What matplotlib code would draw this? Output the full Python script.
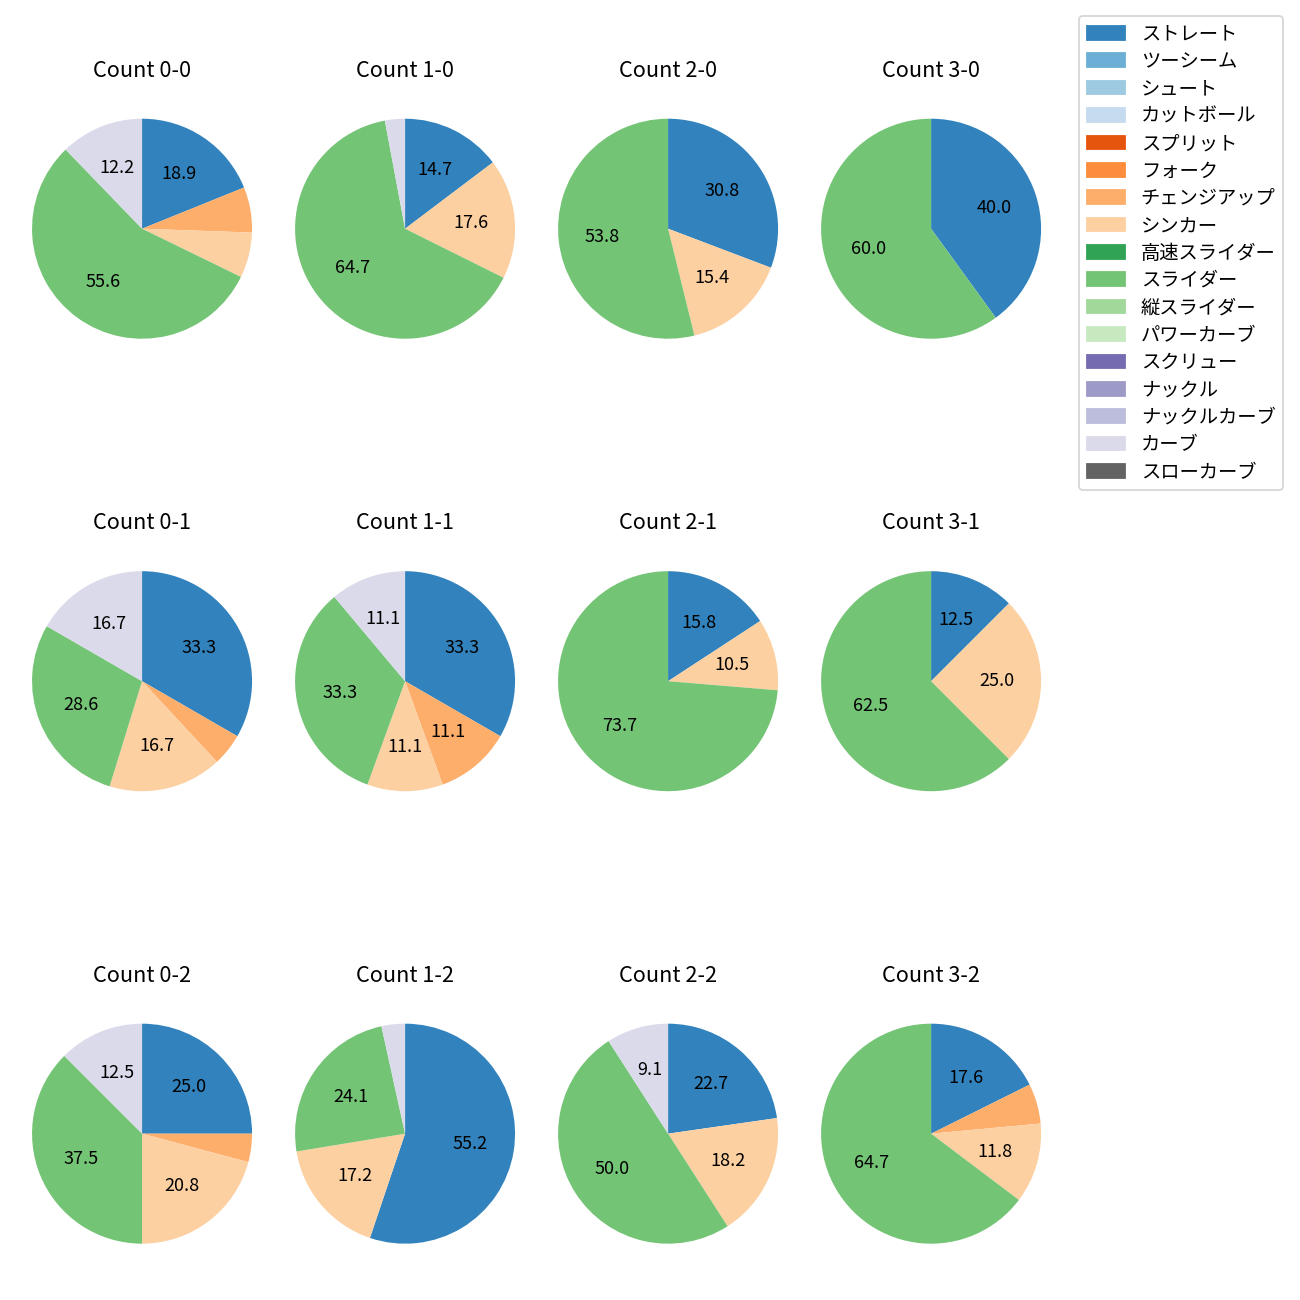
import matplotlib
matplotlib.use('Agg')
import matplotlib.pyplot as plt
from matplotlib.patches import Patch

plt.rcParams['font.family'] = ['Noto Sans CJK JP', 'DejaVu Sans']

# pitch types and their colours (tab20c order)
pitch_types = ['ストレート', 'ツーシーム', 'シュート', 'カットボール', 'スプリット', 'フォーク',
               'チェンジアップ', 'シンカー', '高速スライダー', 'スライダー', '縦スライダー',
               'パワーカーブ', 'スクリュー', 'ナックル', 'ナックルカーブ', 'カーブ', 'スローカーブ']
pitch_colors = ['#3182bd', '#6baed6', '#9ecae1', '#c6dbef', '#e6550d', '#fd8d3c',
                '#fdae6b', '#fdd0a2', '#31a354', '#74c476', '#a1d99b', '#c7e9c0',
                '#756bb1', '#9e9ac8', '#bcbddc', '#dadaeb', '#636363']

# pitch counts per ball-strike count (only types that were thrown)
counts = ['0-0', '1-0', '2-0', '3-0',
          '0-1', '1-1', '2-1', '3-1',
          '0-2', '1-2', '2-2', '3-2']
pitches = {
    '0-0': {'ストレート': 17, 'チェンジアップ': 6, 'シンカー': 6, 'スライダー': 50, 'カーブ': 11},
    '1-0': {'ストレート': 5, 'シンカー': 6, 'スライダー': 22, 'カーブ': 1},
    '2-0': {'ストレート': 4, 'シンカー': 2, 'スライダー': 7},
    '3-0': {'ストレート': 2, 'スライダー': 3},
    '0-1': {'ストレート': 14, 'チェンジアップ': 2, 'シンカー': 7, 'スライダー': 12, 'カーブ': 7},
    '1-1': {'ストレート': 3, 'チェンジアップ': 1, 'シンカー': 1, 'スライダー': 3, 'カーブ': 1},
    '2-1': {'ストレート': 3, 'シンカー': 2, 'スライダー': 14},
    '3-1': {'ストレート': 1, 'シンカー': 2, 'スライダー': 5},
    '0-2': {'ストレート': 6, 'チェンジアップ': 1, 'シンカー': 5, 'スライダー': 9, 'カーブ': 3},
    '1-2': {'ストレート': 16, 'シンカー': 5, 'スライダー': 7, 'カーブ': 1},
    '2-2': {'ストレート': 5, 'シンカー': 4, 'スライダー': 11, 'カーブ': 2},
    '3-2': {'ストレート': 3, 'チェンジアップ': 1, 'シンカー': 2, 'スライダー': 11},
}

color_of = dict(zip(pitch_types, pitch_colors))

fig, axes = plt.subplots(3, 4, figsize=(10, 10))
fig.subplots_adjust(left=0.0035, right=0.822, top=0.951, bottom=0.001,
                    wspace=-0.0436, hspace=0.371)

for ax, count in zip(axes.flat, counts):
    data = pitches[count]
    labels = list(data.keys())
    values = list(data.values())
    ax.pie(values, colors=[color_of[p] for p in labels], startangle=90,
           counterclock=False,
           autopct=lambda pct: f'{pct:.1f}' if pct >= 8 else '')
    ax.set_title(f'Count {count}', fontsize=12, pad=8)

handles = [Patch(color=c, label=p) for p, c in zip(pitch_types, pitch_colors)]
fig.legend(handles=handles, loc='upper right', bbox_to_anchor=(0.9945, 0.9952),
           fontsize=10.7, labelspacing=0.33)

plt.savefig('out.png', dpi=130)
